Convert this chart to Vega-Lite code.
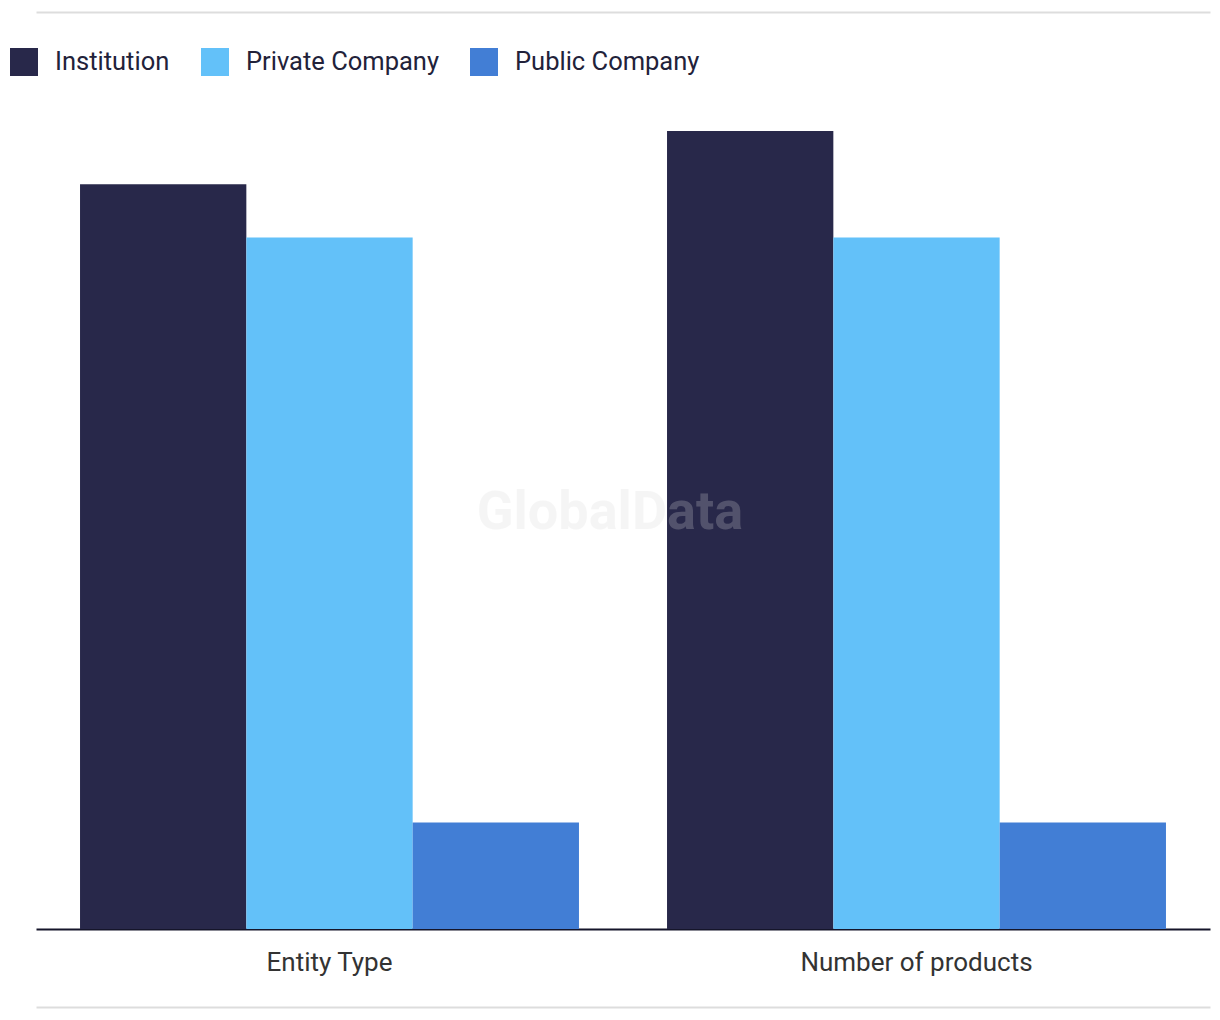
{
  "$schema": "https://vega.github.io/schema/vega-lite/v6.json",
  "width": 1174,
  "height": 798,
  "autosize": {"type": "none"},
  "padding": {"left": 36, "top": 131, "right": 10, "bottom": 91},
  "background": "white",
  "config": {
    "view": {"stroke": null},
    "font": "Roboto",
    "legend": {
      "orient": "none",
      "legendX": -26,
      "legendY": -83,
      "direction": "horizontal",
      "symbolType": "square",
      "symbolSize": 784,
      "symbolStrokeWidth": 0,
      "symbolOpacity": 1,
      "labelFontSize": 25.5,
      "labelColor": "#22223a",
      "labelFont": "Roboto",
      "labelOffset": 17,
      "labelLimit": 0,
      "columnPadding": 31,
      "padding": 0
    }
  },
  "datasets": {
    "bars": [
      {"metric": "Entity Type", "type": "Institution", "count": 14},
      {"metric": "Entity Type", "type": "Private Company", "count": 13},
      {"metric": "Entity Type", "type": "Public Company", "count": 2},
      {"metric": "Number of products", "type": "Institution", "count": 15},
      {"metric": "Number of products", "type": "Private Company", "count": 13},
      {"metric": "Number of products", "type": "Public Company", "count": 2}
    ],
    "mark": [{"label": "GlobalData"}]
  },
  "layer": [
    {
      "data": {"name": "bars"},
      "mark": {"type": "bar"},
      "encoding": {
        "x": {
          "field": "metric",
          "type": "nominal",
          "sort": ["Entity Type", "Number of products"],
          "scale": {"paddingInner": 0.15, "paddingOuter": 0.075},
          "axis": {
            "orient": "bottom",
            "title": null,
            "labelAngle": 0,
            "labelFontSize": 26,
            "labelFont": "Roboto",
            "labelColor": "#333333",
            "labelPadding": 20,
            "labelLimit": 0,
            "ticks": false,
            "domainColor": "#15152a",
            "domainWidth": 2,
            "grid": false
          }
        },
        "xOffset": {
          "field": "type",
          "type": "nominal",
          "sort": ["Institution", "Private Company", "Public Company"],
          "scale": {"paddingInner": 0, "paddingOuter": 0}
        },
        "y": {
          "field": "count",
          "type": "quantitative",
          "scale": {"domain": [0, 15], "nice": false},
          "axis": null
        },
        "color": {
          "field": "type",
          "type": "nominal",
          "scale": {
            "domain": ["Institution", "Private Company", "Public Company"],
            "range": ["#28284a", "#63c1f9", "#427ed5"]
          },
          "legend": {"title": null}
        }
      }
    },
    {
      "data": {"name": "mark"},
      "mark": {"type": "text", "fontSize": 54, "fontWeight": "bold", "font": "Roboto", "color": "#d9d9d9", "opacity": 0.24, "align": "center", "baseline": "middle"},
      "encoding": {
        "text": {"field": "label", "type": "nominal"},
        "x": {
          "datum": "Entity Type",
          "type": "nominal",
          "bandPosition": 1.062,
          "axis": {"orient": "top", "offset": 119, "labels": false, "ticks": false, "title": null, "domainColor": "#dddddd", "domainWidth": 2, "grid": false}
        },
        "y": {"datum": 7.82, "type": "quantitative"}
      }
    },
    {
      "data": {"name": "mark"},
      "mark": {"type": "text", "text": ""},
      "encoding": {
        "x": {
          "datum": "Entity Type",
          "type": "nominal",
          "axis": {"orient": "bottom", "offset": 78, "labels": false, "ticks": false, "title": null, "domainColor": "#dddddd", "domainWidth": 2, "grid": false}
        }
      }
    }
  ],
  "resolve": {"axis": {"x": "independent"}}
}
